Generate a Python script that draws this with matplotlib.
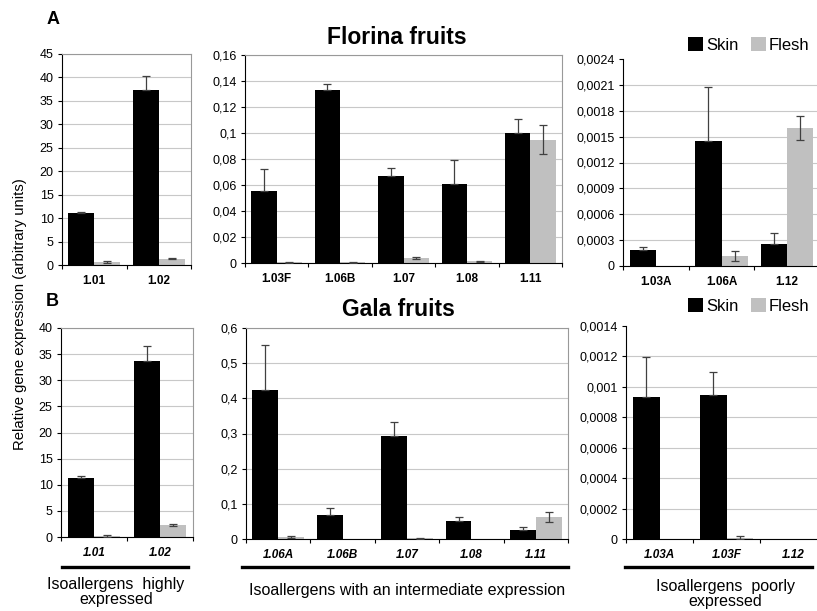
import matplotlib
matplotlib.use("Agg")
import matplotlib.pyplot as plt
import numpy as np
from matplotlib.ticker import FixedLocator, FuncFormatter
from matplotlib.patches import Patch
from matplotlib.lines import Line2D

plt.rcParams['font.family'] = ['Liberation Sans', 'DejaVu Sans']

# ---- Florina fruits (A) ----
florina_hi_cats = ["1.01", "1.02"]
florina_hi_skin = [11.1, 37.4]
florina_hi_skin_err = [0.3, 3.0]
florina_hi_flesh = [0.62, 1.35]
florina_hi_flesh_err = [0.15, 0.15]

florina_mid_cats = ["1.03F", "1.06B", "1.07", "1.08", "1.11"]
florina_mid_skin = [0.0553, 0.1333, 0.0668, 0.0607, 0.1003]
florina_mid_skin_err = [0.017, 0.0045, 0.006, 0.0185, 0.0105]
florina_mid_flesh = [0.0004, 0.0004, 0.0036, 0.0012, 0.0950]
florina_mid_flesh_err = [0.0003, 0.0003, 0.0008, 0.0004, 0.0115]

florina_low_cats = ["1.03A", "1.06A", "1.12"]
florina_low_skin = [0.000186, 0.00145, 0.000255]
florina_low_skin_err = [0.00004, 0.00062, 0.000128]
florina_low_flesh = [0.0, 0.000116, 0.0016]
florina_low_flesh_err = [0.0, 0.00006, 0.00014]

# ---- Gala fruits (B) ----
gala_hi_cats = ["1.01", "1.02"]
gala_hi_skin = [11.35, 33.6]
gala_hi_skin_err = [0.25, 2.9]
gala_hi_flesh = [0.15, 2.3]
gala_hi_flesh_err = [0.15, 0.12]

gala_mid_cats = ["1.06A", "1.06B", "1.07", "1.08", "1.11"]
gala_mid_skin = [0.423, 0.068, 0.293, 0.052, 0.0265]
gala_mid_skin_err = [0.13, 0.019, 0.041, 0.011, 0.007]
gala_mid_flesh = [0.006, 0.0, 0.002, 0.0, 0.063]
gala_mid_flesh_err = [0.003, 0.0, 0.001, 0.0, 0.015]

gala_low_cats = ["1.03A", "1.03F", "1.12"]
gala_low_skin = [0.000935, 0.000948, 0.0]
gala_low_skin_err = [0.00026, 0.00015, 0.0]
gala_low_flesh = [0.0, 0.000009, 0.0]
gala_low_flesh_err = [0.0, 0.000008, 0.0]

# y-axis ranges (max, step) per panel
florina_hi_ylim = (45, 5)
florina_mid_ylim = (0.16, 0.02)
florina_low_ylim = (0.0024, 0.0003)
gala_hi_ylim = (40, 5)
gala_mid_ylim = (0.6, 0.1)
gala_low_ylim = (0.0014, 0.0002)

SKIN = "#000000"
FLESH = "#c0c0c0"
ERR = "#404040"

W, H = 817, 611
fig = plt.figure(figsize=(W / 100, H / 100), dpi=100)


def px_axes(x0, x1, y0, y1):
    return fig.add_axes([x0 / W, 1 - y1 / H, (x1 - x0) / W, (y1 - y0) / H])


def comma(v, pos):
    s = f"{v:g}"
    return s.replace('.', ',')


def panel(ax, cats, skin, skin_err, flesh, flesh_err, ylim, italic, right_open):
    n = len(cats)
    x = np.arange(n)
    w = 0.4
    ax.set_axisbelow(True)
    ax.bar(x - w / 2, skin, w, color=SKIN, zorder=2)
    ax.bar(x + w / 2, flesh, w, color=FLESH, zorder=2)
    # skin bars: only the upper whisker shows above the black bar
    for xi, v, e in zip(x - w / 2, skin, skin_err):
        if e > 0:
            ax.errorbar(xi, v, yerr=[[0], [e]], color=ERR, lw=0.9, capsize=3,
                        capthick=0.9, zorder=3)
    for xi, v, e in zip(x + w / 2, flesh, flesh_err):
        if e > 0:
            ax.errorbar(xi, v, yerr=e, color=ERR, lw=0.9, capsize=3,
                        capthick=0.9, zorder=3)
    ymax, step = ylim
    ticks = np.linspace(0, ymax, int(round(ymax / step)) + 1)
    ax.set_ylim(0, ymax)
    ax.set_xlim(-0.5, n - 0.5)
    ax.yaxis.set_major_locator(FixedLocator(ticks))
    ax.yaxis.set_major_formatter(FuncFormatter(comma))
    ax.tick_params(axis='y', direction='out', length=3, width=0.8, pad=3, labelsize=9)
    ax.set_xticks(x)
    ax.set_xticklabels(cats, fontsize=8.5, fontweight='bold',
                       fontstyle='italic' if italic else 'normal')
    ax.set_xticks(np.arange(n + 1) - 0.5, minor=True)
    ax.tick_params(axis='x', which='major', length=0, pad=7)
    ax.tick_params(axis='x', which='minor', direction='out', length=3, width=0.8)
    ax.yaxis.grid(True, color='#c8c8c8', lw=0.8)
    for side in ('left', 'bottom'):
        ax.spines[side].set_color('black')
        ax.spines[side].set_linewidth(0.8)
    for side in ('right', 'top'):
        ax.spines[side].set_color('#999999')
        ax.spines[side].set_linewidth(0.8)
    if right_open:
        ax.spines['top'].set_visible(False)
        ax.get_ygridlines()[-1].set_visible(False)


# Row A: Florina
ax = px_axes(62, 191, 54, 265)
panel(ax, florina_hi_cats, florina_hi_skin, florina_hi_skin_err,
      florina_hi_flesh, florina_hi_flesh_err, florina_hi_ylim, False, False)
ax = px_axes(245, 562, 55, 263)
panel(ax, florina_mid_cats, florina_mid_skin, florina_mid_skin_err,
      florina_mid_flesh, florina_mid_flesh_err, florina_mid_ylim, False, False)
ax = px_axes(623, 820, 59, 266)
panel(ax, florina_low_cats, florina_low_skin, florina_low_skin_err,
      florina_low_flesh, florina_low_flesh_err, florina_low_ylim, False, True)

# Row B: Gala
ax = px_axes(61, 193, 328, 537)
panel(ax, gala_hi_cats, gala_hi_skin, gala_hi_skin_err,
      gala_hi_flesh, gala_hi_flesh_err, gala_hi_ylim, True, False)
ax = px_axes(246, 568, 328, 539)
panel(ax, gala_mid_cats, gala_mid_skin, gala_mid_skin_err,
      gala_mid_flesh, gala_mid_flesh_err, gala_mid_ylim, True, False)
ax = px_axes(626, 827, 326, 539)
panel(ax, gala_low_cats, gala_low_skin, gala_low_skin_err,
      gala_low_flesh, gala_low_flesh_err, gala_low_ylim, True, True)


def ftext(x, y, s, **kw):
    fig.text(x / W, 1 - y / H, s, **kw)


# Panel letters and titles
ftext(53, 20, "A", fontsize=13, fontweight='bold', ha='center', va='center')
ftext(52, 301, "B", fontsize=13, fontweight='bold', ha='center', va='center')
ftext(397, 37, "Florina fruits", fontsize=16.5, fontweight='bold', ha='center', va='center')
ftext(398, 309, "Gala fruits", fontsize=16.5, fontweight='bold', ha='center', va='center')

# Shared y label
ftext(20, 314, "Relative gene expression (arbitrary units)", fontsize=10.7,
      rotation=90, ha='center', va='center')

# Legends
handles = [Patch(facecolor=SKIN, edgecolor='none'), Patch(facecolor=FLESH, edgecolor='none')]
for yc in (45, 306):
    fig.legend(handles, ["Skin", "Flesh"], ncol=2, loc='center',
               bbox_to_anchor=(749 / W, 1 - yc / H), frameon=False, fontsize=12,
               handlelength=0.9, handleheight=0.9, handletextpad=0.2,
               columnspacing=0.7, borderpad=0)

# Group underlines and captions
for x0, x1 in ((62, 188), (242, 568), (625, 812)):
    fig.add_artist(Line2D([x0 / W, x1 / W], [1 - 567 / H] * 2, color='black', lw=2.4))

ftext(116, 577, "Isoallergens  highly\nexpressed", fontsize=11.5, ha='center', va='top',
      linespacing=1.0)
ftext(407, 591, "Isoallergens with an intermediate expression", fontsize=11.5,
      ha='center', va='center')
ftext(725, 579, "Isoallergens  poorly\nexpressed", fontsize=11.5, ha='center', va='top',
      linespacing=1.0)

fig.savefig("out.png", dpi=100)
